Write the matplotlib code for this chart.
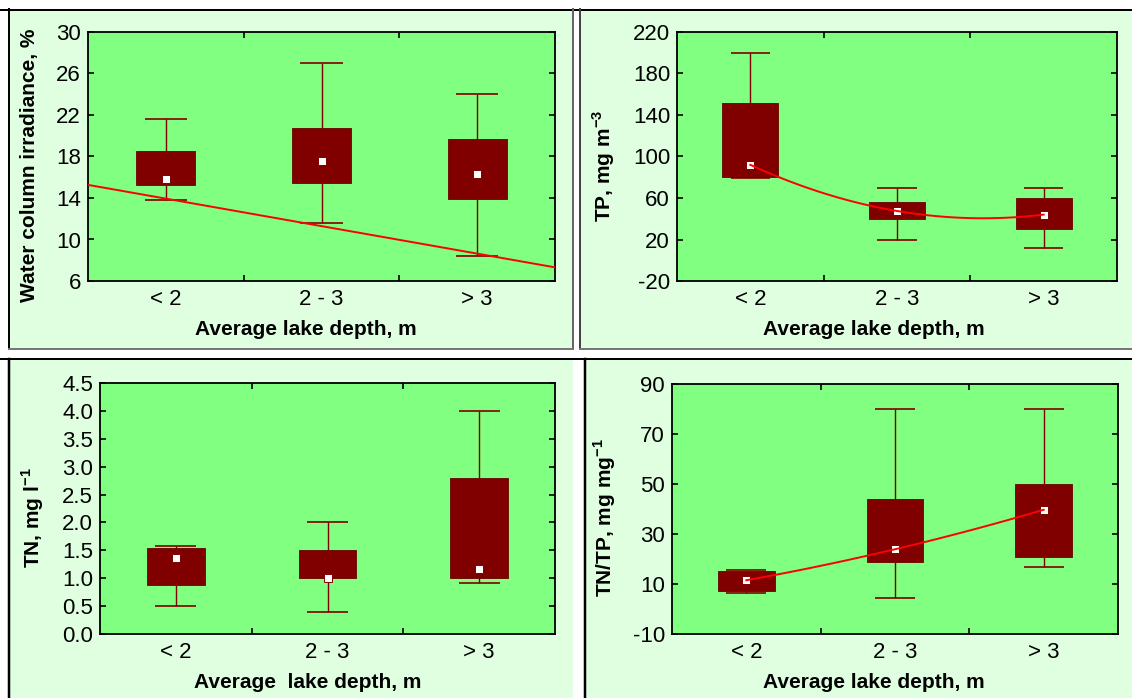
import numpy as np
import matplotlib
matplotlib.use('Agg')
import matplotlib.pyplot as plt
from matplotlib.patches import Rectangle
from matplotlib.lines import Line2D

plt.rcParams['font.family'] = ['Liberation Sans', 'DejaVu Sans']
plt.rcParams['axes.unicode_minus'] = False
plt.rcParams['mathtext.fontset'] = 'custom'
plt.rcParams['mathtext.bf'] = 'Liberation Sans:bold'
plt.rcParams['mathtext.rm'] = 'Liberation Sans'

# --- data ---
categories = ['< 2', '2 - 3', '> 3']

# water column irradiance, %
irr_med = [15.8, 17.6, 16.35]
irr_q1 = [15.25, 15.45, 13.9]
irr_q3 = [18.5, 20.7, 19.7]
irr_min = [13.8, 11.6, 8.4]
irr_max = [21.6, 27.0, 24.0]
irr_trend = [13.94, 11.29, 8.64]

# TP, mg m-3
tp_med = [92, 47.5, 44]
tp_q1 = [80, 40, 30]
tp_q3 = [152, 56, 60]
tp_min = [79, 20, 12]
tp_max = [200, 70, 70]

# TN, mg l-1
tn_med = [1.36, 1.0, 1.16]
tn_q1 = [0.87, 1.0, 1.0]
tn_q3 = [1.54, 1.5, 2.8]
tn_min = [0.5, 0.4, 0.92]
tn_max = [1.57, 2.0, 4.0]

# TN/TP, mg mg-1
ratio_med = [11.5, 23.9, 39.7]
ratio_q1 = [7.2, 18.9, 20.9]
ratio_q3 = [15.3, 44.1, 50.0]
ratio_min = [6.4, 4.5, 16.7]
ratio_max = [15.6, 80.0, 80.0]

W, H = 1132, 698
fig = plt.figure(figsize=(W / 100, H / 100), dpi=100)
fig.patch.set_facecolor('white')

PANEL = '#e0ffe0'
PLOT = '#80ff80'
BOX = '#800000'


def fx(x):
    return x / W


def fy(y):
    return 1 - y / H


# panel backgrounds (pixel boxes: x0, y0, x1, y1)
for x0, y0, x1, y1 in [(9, 10, 573, 349), (580, 10, 1132, 349),
                       (9, 359, 573, 698), (585, 359, 1132, 698)]:
    fig.add_artist(Rectangle((fx(x0), fy(y1)), fx(x1 - x0), (y1 - y0) / H,
                             transform=fig.transFigure, facecolor=PANEL,
                             edgecolor='none', zorder=0))

# panel frame lines
frame = [((0, 1132), (9.5, 9.5), 'black', 2),
         ((8.5, 8.5), (9, 349), 'black', 2),
         ((573, 573), (9, 349), '#666666', 2),
         ((580, 580), (9, 349), '#444444', 2),
         ((9, 573), (349, 349), '#777777', 2),
         ((580, 1132), (349, 349), '#777777', 2),
         ((0, 1132), (359, 359), 'black', 2),
         ((8.5, 8.5), (359, 698), 'black', 2.5),
         ((585, 585), (359, 698), 'black', 2.5)]
for xs, ys, c, lw in frame:
    fig.add_artist(Line2D([fx(v) for v in xs], [fy(v) for v in ys],
                          transform=fig.transFigure, color=c, lw=lw * 0.72))


def make_axes(x0, y0, x1, y1):
    ax = fig.add_axes([fx(x0), fy(y1), fx(x1 - x0), (y1 - y0) / H])
    ax.set_facecolor(PLOT)
    for s in ax.spines.values():
        s.set_linewidth(1.3)
        s.set_color('black')
    ax.set_xlim(-0.5, 2.5)
    ax.set_xticks([0, 1, 2], categories)
    ax.set_xticks([0.5, 1.5], minor=True)
    ax.tick_params(axis='x', which='major', length=0, pad=6, labelsize=16)
    ax.tick_params(axis='x', which='minor', direction='in', length=4,
                   width=1.2, top=True, bottom=True)
    ax.tick_params(axis='y', which='major', direction='in', length=4,
                   width=1.2, left=True, right=True, labelsize=16, pad=5)
    return ax


def draw_boxes(ax, q1, q3, lo, hi, med):
    x = np.arange(len(categories))
    ax.vlines(x, lo, q1, color=BOX, lw=1.0, zorder=2)
    ax.vlines(x, q3, hi, color=BOX, lw=1.0, zorder=2)
    ax.hlines(lo, x - 0.135, x + 0.135, color=BOX, lw=1.2, zorder=2)
    ax.hlines(hi, x - 0.135, x + 0.135, color=BOX, lw=1.2, zorder=2)
    ax.bar(x, np.array(q3) - np.array(q1), bottom=q1, width=0.38,
           color=BOX, edgecolor='#6a0000', lw=0.6, zorder=3)
    ax.plot(x, med, 's', ms=6, mfc='white', mec=BOX, mew=0.7,
            ls='none', zorder=4)


def trend_line(ax, vals, deg, x_from, x_to):
    coef = np.polyfit(np.arange(len(vals)), vals, deg)
    xs = np.linspace(x_from, x_to, 100)
    ax.plot(xs, np.polyval(coef, xs), color='#ff0000', lw=1.4, zorder=5)


# 1. irradiance
ax1 = make_axes(88, 32, 555, 281)
draw_boxes(ax1, irr_q1, irr_q3, irr_min, irr_max, irr_med)
trend_line(ax1, irr_trend, 1, -0.5, 2.5)
ax1.set_ylim(6, 30)
ax1.set_yticks(np.arange(6, 31, 4))

# 2. TP
ax2 = make_axes(677, 32, 1117, 281)
draw_boxes(ax2, tp_q1, tp_q3, tp_min, tp_max, tp_med)
trend_line(ax2, tp_med, 2, 0, 2)
ax2.set_ylim(-20, 220)
ax2.set_yticks(np.arange(-20, 221, 40))

# 3. TN
ax3 = make_axes(100, 383, 555, 634)
draw_boxes(ax3, tn_q1, tn_q3, tn_min, tn_max, tn_med)
ax3.set_ylim(0, 4.5)
ax3.set_yticks(np.arange(0, 4.51, 0.5))
ax3.yaxis.set_major_formatter(matplotlib.ticker.FormatStrFormatter('%.1f'))

# 4. TN/TP
ax4 = make_axes(672, 384, 1118, 634)
draw_boxes(ax4, ratio_q1, ratio_q3, ratio_min, ratio_max, ratio_med)
trend_line(ax4, ratio_med, 2, 0, 2)
ax4.set_ylim(-10, 90)
ax4.set_yticks(np.arange(-10, 91, 20))

# axis titles
lab = dict(fontsize=15, fontweight='bold', ha='center', va='center')
fig.text(fx(306), fy(330), 'Average lake depth, m', **lab)
fig.text(fx(874), fy(330), 'Average lake depth, m', **lab)
fig.text(fx(308), fy(682), 'Average  lake depth, m', **lab)
fig.text(fx(874), fy(682), 'Average lake depth, m', **lab)

fig.text(fx(30), fy(165), 'Water column irradiance, %', rotation=90, **lab)
fig.text(fx(604), fy(166), r'TP, mg m$^{\mathbf{-3}}$', rotation=90, **lab)
fig.text(fx(33), fy(518), r'TN, mg l$^{\mathbf{-1}}$', rotation=90, **lab)
fig.text(fx(605), fy(518), r'TN/TP, mg mg$^{\mathbf{-1}}$', rotation=90, **lab)

fig.savefig('out.png', dpi=100, facecolor='white')
